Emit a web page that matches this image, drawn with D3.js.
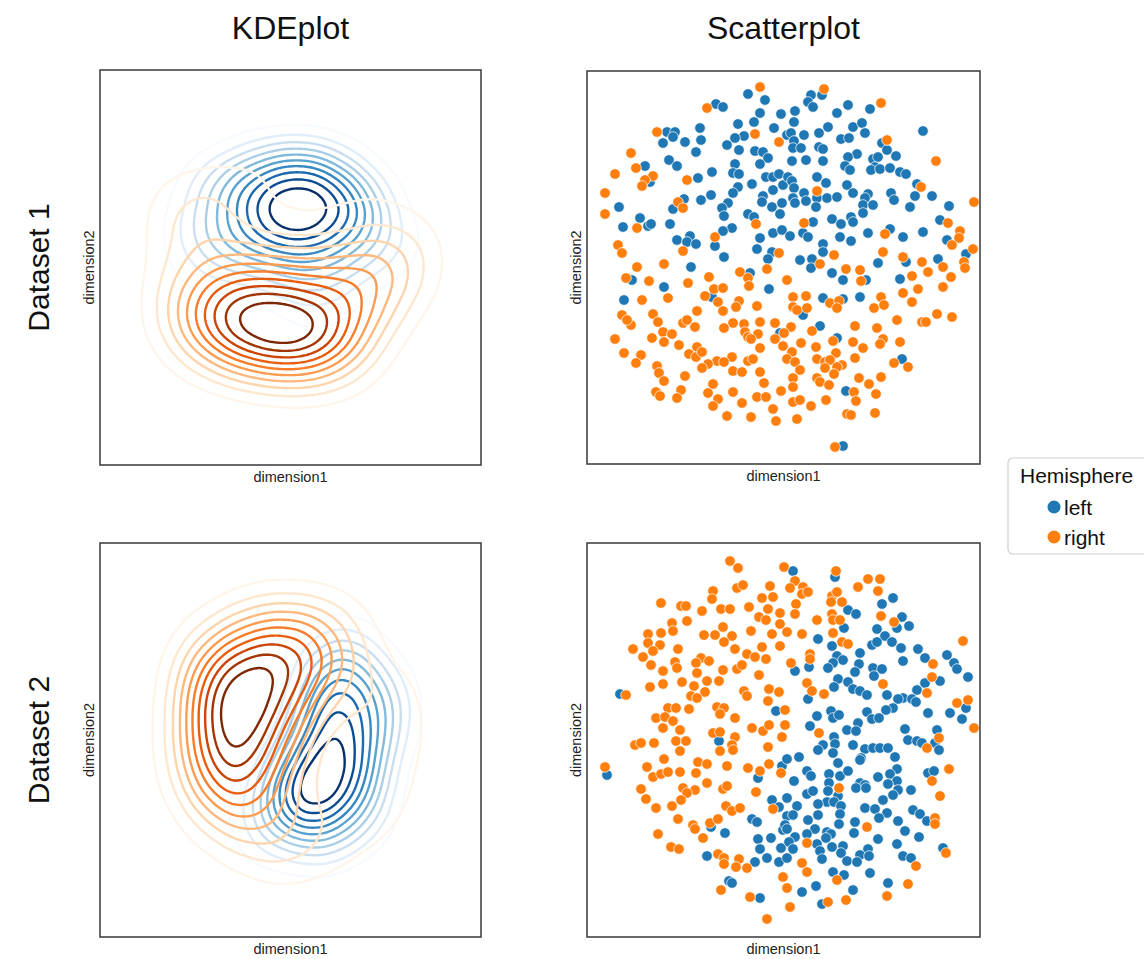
<!DOCTYPE html>
<html>
<head>
<meta charset="utf-8">
<script src="https://cdn.jsdelivr.net/npm/d3@7"></script>
<style>
  html, body { margin: 0; padding: 0; background: #fff; }
  svg { display: block; font-family: "Liberation Sans", Arial, Helvetica, sans-serif; }
</style>
</head>
<body>
<svg id="chart" width="1144" height="959"></svg>
<script>
// Two datasets, points (arbitrary embedding units, 0..393)

var hemispheres = ["left", "right"];
var hemiColors = ["#1f77b4", "#ff7f0e"];
var rowTitles = ["Dataset 1", "Dataset 2"];
var colTitles = ["KDEplot", "Scatterplot"];
var xLabel = "dimension1", yLabel = "dimension2";

var d1Left = [[161,370],[178,364],[129,360],[136,357],[173,351],[194,350],[151,340],[167,342],[187,336],[113,336],[80,332],[88,332],[157,328],[148,326],[140,319],[76,321],[86,327],[98,322],[114,324],[152,314],[168,313],[176,312],[109,312],[181,306],[82,304],[90,298],[58,298],[148,300],[173,300],[125,292],[146,291],[152,290],[179,287],[186,287],[192,290],[63,282],[111,286],[151,277],[165,280],[186,274],[196,279],[146,271],[176,268],[124,269],[114,264],[97,265],[175,262],[141,261],[32,257],[86,255],[135,256],[185,257],[137,248],[161,250],[167,247],[193,250],[53,246],[36,237],[61,238],[64,240],[83,240],[145,236],[136,233],[186,231],[103,228],[90,224],[100,222],[109,220],[128,218],[173,226],[170,215],[185,212],[137,207],[181,205],[104,197],
  [224,369],[235,369],[221,362],[226,357],[261,359],[283,355],[208,353],[250,351],[207,342],[241,337],[266,337],[275,341],[336,333],[200,329],[204,331],[217,329],[232,331],[254,325],[262,326],[278,331],[207,323],[295,321],[206,316],[214,316],[232,317],[236,315],[300,314],[270,310],[261,307],[309,308],[286,305],[291,307],[205,303],[219,304],[236,303],[258,298],[263,294],[288,297],[284,294],[293,295],[303,296],[313,292],[319,290],[201,287],[205,283],[230,287],[239,281],[260,279],[330,280],[207,276],[266,271],[304,271],[281,270],[217,271],[328,268],[345,268],[206,266],[219,263],[230,266],[240,266],[250,267],[278,266],[307,264],[195,261],[208,261],[229,257],[276,259],[286,259],[323,257],[362,258],[276,251],[264,247],[245,245],[353,244],[226,242],[254,240],[266,242],[303,235],[195,234],[203,228],[216,231],[221,227],[253,227],[264,223],[281,231],[316,227],[336,232],[360,224],[236,220],[236,212],[379,210],[213,204],[225,205],[319,202],[291,201],[351,205],
  [163,191],[45,184],[77,177],[182,175],[37,164],[125,167],[193,131],
  [224,196],[245,191],[256,184],[279,184],[313,185],[236,166],[256,165],[273,167],[216,149],[233,138],[250,126],[315,105],[259,73],[256,18]];

var d1Right = [[173,377],[120,356],[70,332],[168,330],[192,322],[44,311],[49,296],[28,290],[66,288],[58,284],[55,278],[100,284],[18,271],[91,262],[96,256],[18,250],[50,236],[169,240],[128,227],[31,219],[35,211],[96,213],[192,211],[50,197],[77,200],[180,195],
  [237,375],[294,361],[300,324],[349,303],[334,277],[230,273],[387,262],[217,241],[361,241],[298,230],[373,233],[372,226],[365,219],[296,212],[247,209],[386,215],[233,200],[316,207],[335,202],[356,197],[377,202],[259,195],[273,194],
  [153,192],[39,186],[62,183],[101,181],[122,187],[161,186],[162,178],[127,175],[136,176],[55,164],[81,166],[118,168],[131,162],[152,163],[149,157],[170,158],[136,153],[110,153],[35,149],[44,139],[40,144],[66,150],[71,142],[96,141],[100,144],[108,137],[146,141],[157,140],[173,142],[188,141],[137,136],[76,132],[85,130],[28,125],[65,126],[77,122],[92,119],[158,132],[161,127],[171,130],[188,125],[164,125],[110,117],[173,116],[196,118],[37,111],[54,109],[49,101],[102,110],[109,107],[115,112],[145,107],[161,103],[166,105],[130,103],[137,102],[121,100],[115,96],[70,98],[72,91],[146,93],[155,92],[173,92],[98,88],[77,83],[177,81],[126,80],[94,74],[69,72],[73,68],[121,71],[146,72],[194,73],[90,66],[131,65],[170,67],[179,67],[126,58],[155,61],[186,55],[140,48],[164,47],[189,43],
  [200,184],[274,183],[325,188],[341,192],[364,187],[378,196],[356,177],[331,175],[316,171],[206,167],[219,168],[243,161],[252,163],[250,156],[294,167],[325,162],[206,157],[210,154],[220,156],[287,156],[297,159],[350,150],[365,147],[310,144],[335,142],[339,142],[204,137],[268,138],[290,136],[197,131],[225,133],[246,123],[296,125],[293,120],[266,122],[313,122],[214,121],[229,117],[276,116],[205,112],[249,111],[200,105],[208,102],[230,105],[238,102],[243,104],[268,106],[307,101],[321,97],[255,99],[250,97],[238,96],[213,94],[247,90],[206,86],[230,86],[272,86],[294,87],[233,82],[242,79],[282,80],[206,77],[267,72],[289,70],[206,62],[213,64],[239,64],[269,63],[224,58],[260,50],[264,49],[288,51],[210,45],[248,17]];

var d2Left = [[189,225],[33,242],
  [206,365],[248,359],[306,338],[295,332],[261,326],[269,322],[315,319],[322,310],[310,308],[257,308],[290,307],[298,300],[231,297],[245,290],[285,291],[290,294],[305,294],[314,288],[331,287],[273,283],[360,281],[338,278],[316,275],[250,280],[256,276],[246,273],[367,273],[222,269],[241,268],[272,272],[286,268],[295,267],[208,265],[268,264],[370,267],[287,260],[381,259],[251,257],[261,254],[353,255],[338,253],[247,249],[266,247],[273,245],[280,241],[330,246],[300,241],[221,237],[316,238],[325,237],[311,237],[329,234],[306,228],[379,228],[244,225],[280,224],[299,226],[363,223],[341,223],[230,220],[246,218],[252,221],[285,217],[292,218],[375,217],[271,213],[223,210],[260,206],[269,205],[318,207],[350,206],
  [132,195],[20,161],[195,170],[171,158],[185,136],[192,129],[165,117],[170,114],[124,109],[138,103],[196,106],[171,97],[184,98],[173,87],[194,88],[120,80],[180,78],[168,74],[192,74],[142,55],[145,53],[173,38],
  [247,199],[321,196],[330,195],[335,193],[348,193],[352,186],[236,191],[248,192],[266,191],[278,187],[286,188],[293,188],[301,188],[231,186],[246,183],[212,179],[274,178],[273,176],[308,179],[200,177],[251,173],[220,165],[224,160],[242,162],[253,160],[261,165],[310,167],[303,162],[291,159],[341,163],[347,165],[207,155],[310,155],[242,153],[273,153],[278,151],[301,152],[269,148],[279,148],[311,146],[324,146],[241,145],[220,142],[226,145],[251,140],[306,141],[200,138],[210,130],[240,134],[247,134],[254,130],[231,132],[296,136],[278,128],[288,127],[326,126],[333,122],[200,120],[206,121],[231,121],[253,122],[300,123],[292,118],[340,115],[311,115],[221,116],[268,114],[198,111],[252,112],[200,107],[228,107],[240,104],[318,105],[220,102],[244,102],[267,103],[208,99],[239,98],[291,97],[332,99],[202,94],[230,92],[256,90],[310,92],[206,87],[245,89],[281,87],[356,88],[233,85],[254,83],[273,81],[282,80],[316,80],[200,78],[235,77],[260,75],[270,74],[324,78],[246,64],[257,61],[283,63],[301,53],[229,50],[215,44],[266,46],[235,32]];

var d2Right = [[143,375],[151,368],[197,369],[126,345],[150,348],[156,351],[183,350],[175,338],[186,339],[74,333],[125,337],[94,330],[99,330],[115,325],[134,327],[143,327],[162,329],[181,327],[193,323],[172,319],[179,316],[85,313],[100,315],[136,309],[193,312],[61,302],[74,303],[86,305],[117,301],[128,301],[145,300],[164,305],[185,302],[137,294],[61,293],[73,291],[46,287],[66,285],[91,287],[148,287],[175,289],[193,290],[56,279],[160,282],[168,279],[179,277],[114,278],[88,274],[109,273],[122,275],[64,271],[90,268],[150,267],[155,271],[76,265],[136,266],[110,263],[172,261],[95,254],[120,255],[132,255],[76,252],[107,250],[63,249],[118,244],[182,247],[192,244],[39,241],[104,240],[110,238],[157,245],[160,240],[181,235],[81,228],[89,228],[102,227],[130,229],[137,228],[133,222],[148,218],[69,218],[78,219],[86,215],[76,208],[93,206],[126,203],[133,204],[165,208],[176,205],[182,211],
  [249,365],[281,357],[293,357],[208,355],[203,348],[216,349],[215,342],[221,344],[271,349],[291,345],[245,340],[250,344],[255,334],[244,334],[209,332],[208,322],[245,322],[294,320],[307,314],[230,316],[246,316],[253,316],[200,304],[215,302],[246,303],[255,294],[261,292],[376,295],[223,282],[223,277],[346,272],[204,273],[345,259],[296,252],[220,253],[225,245],[237,242],[340,243],[381,236],[370,233],[198,226],[198,211],[387,208],[232,203],
  [148,199],[195,199],[48,191],[54,193],[67,193],[89,195],[99,195],[145,191],[146,186],[181,189],[93,185],[133,185],[18,169],[77,177],[60,169],[111,174],[120,172],[140,170],[161,168],[173,165],[182,172],[66,159],[74,162],[81,164],[93,164],[109,163],[120,153],[54,147],[96,148],[108,146],[136,147],[140,150],[169,144],[100,143],[59,137],[94,136],[69,128],[85,130],[139,130],[145,125],[153,128],[186,127],[91,117],[123,113],[131,117],[106,111],[108,107],[71,102],[116,98],[84,89],[92,87],[131,82],[137,78],[137,72],[152,77],[149,69],[160,68],[196,59],[134,46],[163,39],[180,17],
  [352,198],[340,188],[362,167],[194,163],[345,155],[252,148],[353,140],[348,118],[348,112],[280,109],[220,93],[359,83],[215,73],[329,70],[220,64],[250,56],[321,52],[200,48],[300,40],[259,36],[241,34],[203,29]];

var datasets = [[d1Left, d1Right], [d2Left, d2Right]];
var scatterDomain = [0, 393];
var kdePad = 0.32;      // extra room round the data in the KDE axes
var kdeBwScale = 1.25;  // smoothing relative to the normal reference rule
var kdeLevels = 10;     // contour lines per hemisphere

///////////////////////////////////////////////////////////////////////////////
// Layout

var svg = d3.select("#chart");
var panels = [
  [{x: 100, y: 70, w: 381, h: 395}, {x: 587, y: 71, w: 393, h: 393}],
  [{x: 100, y: 543, w: 381, h: 394}, {x: 587, y: 543, w: 393, h: 394}]
];

svg.selectAll("text.col-title").data(colTitles).enter().append("text")
  .attr("class", "col-title")
  .attr("x", function (d, i) { return panels[0][i].x + panels[0][i].w / 2; })
  .attr("y", 39)
  .attr("text-anchor", "middle")
  .style("font-size", "32px")
  .attr("fill", "#111")
  .text(function (d) { return d; });

svg.selectAll("text.row-title").data(rowTitles).enter().append("text")
  .attr("class", "row-title")
  .attr("transform", function (d, i) {
    var p = panels[i][0];
    return "translate(49," + (p.y + p.h / 2) + ") rotate(-90)";
  })
  .attr("text-anchor", "middle")
  .style("font-size", "30px")
  .attr("fill", "#111")
  .text(function (d) { return d; });

///////////////////////////////////////////////////////////////////////////////
// Panels

var clipId = 0;

function frame(g, box) {
  g.append("rect")
    .attr("width", box.w).attr("height", box.h)
    .attr("fill", "none").attr("stroke", "#444").attr("stroke-width", 1.6);
  g.append("text")
    .attr("x", box.w / 2).attr("y", box.h + 17)
    .attr("text-anchor", "middle")
    .style("font-size", "14.5px").attr("fill", "#222")
    .text(xLabel);
  g.append("text")
    .attr("transform", "translate(-6," + (box.h / 2) + ") rotate(-90)")
    .attr("text-anchor", "middle")
    .style("font-size", "14.5px").attr("fill", "#222")
    .text(yLabel);
}

function clipped(g, box) {
  var id = "clip" + (clipId++);
  g.append("clipPath").attr("id", id)
    .append("rect").attr("width", box.w).attr("height", box.h);
  return g.append("g").attr("clip-path", "url(#" + id + ")");
}

function drawKde(g, box, left, right) {
  var all = left.concat(right);
  var ex = d3.extent(all, function (d) { return d[0]; });
  var ey = d3.extent(all, function (d) { return d[1]; });
  var padX = (ex[1] - ex[0]) * kdePad, padY = (ey[1] - ey[0]) * kdePad;
  var x = d3.scaleLinear().domain([ex[0] - padX, ex[1] + padX]).range([0, box.w]);
  var y = d3.scaleLinear().domain([ey[0] - padY, ey[1] + padY]).range([box.h, 0]);
  var inner = clipped(g, box);

  [[left, d3.interpolateBlues], [right, d3.interpolateOranges]].forEach(function (pair) {
    var pts = pair[0], ramp = pair[1];
    // normal reference bandwidth per axis, in pixels
    var f = kdeBwScale * 1.06 * Math.pow(pts.length, -1 / 6);
    var bx = f * d3.deviation(pts, function (d) { return d[0]; }) * Math.abs(x(1) - x(0));
    var by = f * d3.deviation(pts, function (d) { return d[1]; }) * Math.abs(y(1) - y(0));
    var B = 16, sx = bx / B, sy = by / B;

    var density = d3.contourDensity()
      .x(function (d) { return x(d[0]) / sx; })
      .y(function (d) { return y(d[1]) / sy; })
      .size([box.w / sx, box.h / sy])
      .cellSize(1)
      .bandwidth(B);

    // evenly spaced levels below the peak, lightest at the bottom
    var probe = density.thresholds(400)(pts);
    var zmax = probe[probe.length - 1].value;
    var levels = d3.range(1, kdeLevels + 1).map(function (i) { return zmax * i / (kdeLevels + 1); });
    var t = d3.scaleLinear().domain([levels[0], levels[levels.length - 1]]);

    var path = d3.geoPath(d3.geoTransform({
      point: function (px, py) { this.stream.point(px * sx, py * sy); }
    }));

    inner.append("g").selectAll("path")
      .data(density.thresholds(levels)(pts))
      .enter().append("path")
      .attr("d", path)
      .attr("fill", "none")
      .attr("stroke", function (c) { return ramp(t(c.value)); })
      .attr("stroke-width", 2.4)
      .attr("stroke-linejoin", "round");
  });
}

function drawScatter(g, box, left, right) {
  var x = d3.scaleLinear().domain(scatterDomain).range([0, box.w]);
  var y = d3.scaleLinear().domain(scatterDomain).range([393, 0]);
  var inner = clipped(g, box);
  [left, right].forEach(function (pts, k) {
    inner.append("g").selectAll("circle")
      .data(pts)
      .enter().append("circle")
      .attr("cx", function (d) { return x(d[0]); })
      .attr("cy", function (d) { return y(d[1]); })
      .attr("r", 5.3)
      .attr("fill", hemiColors[k])
      .attr("stroke", "#fff")
      .attr("stroke-width", 0.7);
  });
}

datasets.forEach(function (ds, row) {
  var kBox = panels[row][0], sBox = panels[row][1];
  var gk = svg.append("g").attr("transform", "translate(" + kBox.x + "," + kBox.y + ")");
  drawKde(gk, kBox, ds[0], ds[1]);
  frame(gk, kBox);
  var gs = svg.append("g").attr("transform", "translate(" + sBox.x + "," + sBox.y + ")");
  drawScatter(gs, sBox, ds[0], ds[1]);
  frame(gs, sBox);
});

///////////////////////////////////////////////////////////////////////////////
// Legend

var legend = svg.append("g").attr("transform", "translate(1008,458)");
legend.append("rect")
  .attr("width", 150).attr("height", 96).attr("rx", 5)
  .attr("fill", "#fff").attr("stroke", "#d0d0d0").attr("stroke-width", 1.2);
legend.append("text")
  .attr("x", 12).attr("y", 25)
  .style("font-size", "21px").attr("fill", "#111")
  .text("Hemisphere");
var items = legend.selectAll("g.item").data(hemispheres).enter().append("g")
  .attr("class", "item")
  .attr("transform", function (d, i) { return "translate(46," + (49 + i * 30) + ")"; });
items.append("circle").attr("r", 6.5)
  .attr("fill", function (d, i) { return hemiColors[i]; });
items.append("text")
  .attr("x", 10).attr("y", 7.5)
  .style("font-size", "21px").attr("fill", "#111")
  .text(function (d) { return d; });
</script>
</body>
</html>
